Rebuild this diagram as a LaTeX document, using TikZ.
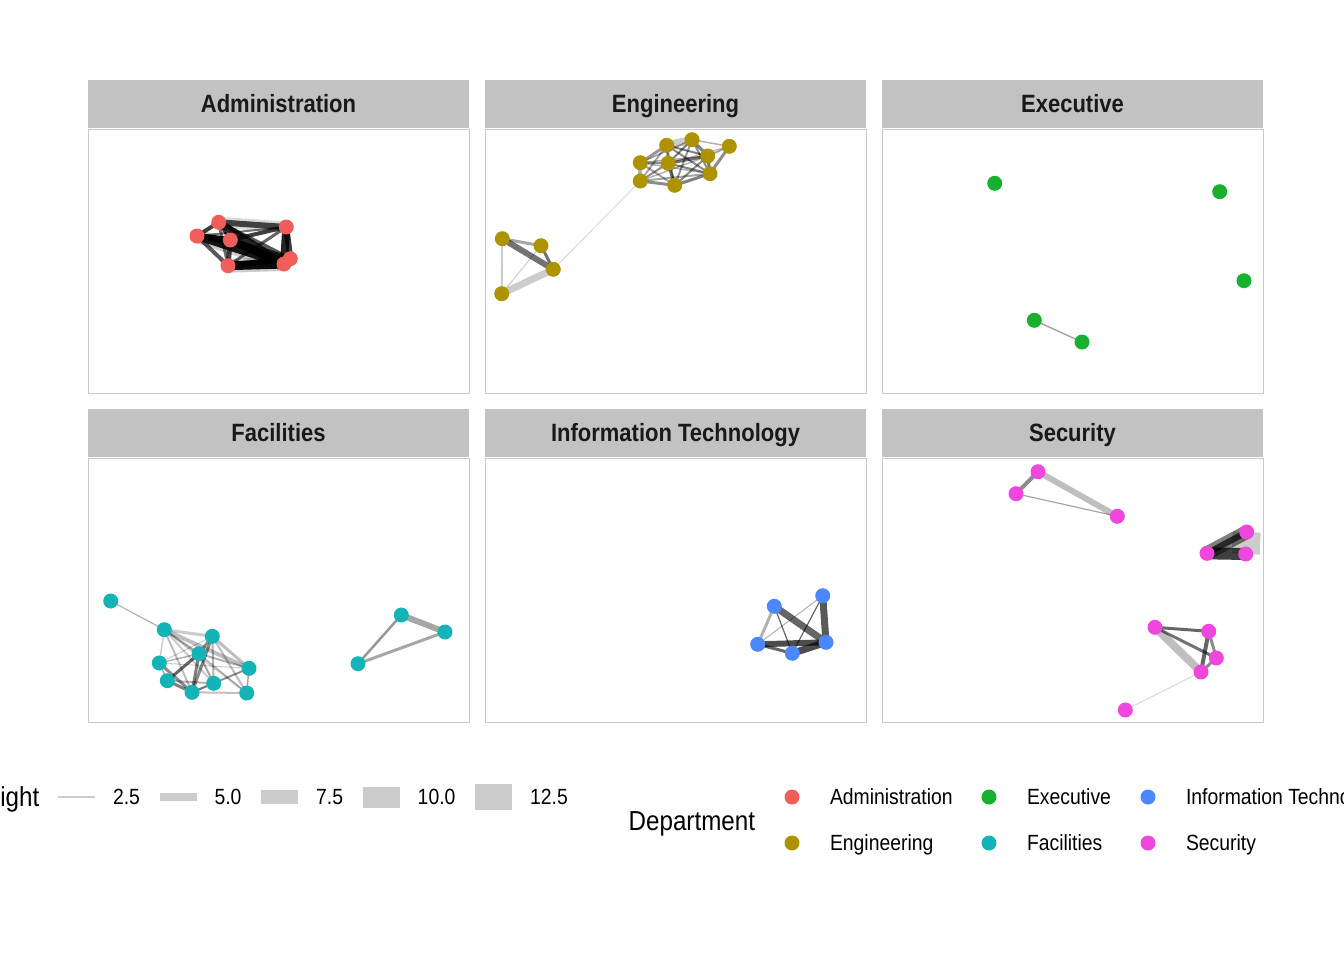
\documentclass[tikz,border=0pt]{standalone}
\usepackage{fontspec}
\setmainfont{Liberation Sans}[FakeStretch=0.88]
\usetikzlibrary{positioning,backgrounds}

\definecolor{stripgray}{HTML}{C2C2C2}
\definecolor{framegray}{HTML}{C8C8C8}
\definecolor{keygray}{HTML}{CCCCCC}
\definecolor{admcol}{HTML}{F15E5A}
\definecolor{engcol}{HTML}{AD9300}
\definecolor{execol}{HTML}{17B12F}
\definecolor{faccol}{HTML}{13B3B8}
\definecolor{itcol}{HTML}{4C87FF}
\definecolor{seccol}{HTML}{EF47DD}

\tikzset{
  strip/.style={fill=stripgray, minimum width=285.75pt, minimum height=36pt,
    font=\bfseries\fontsize{18.75}{20}\selectfont, text=black!90,
    text height=13.4pt, text depth=0pt},
  panel/.style={draw=framegray, line width=0.75pt, minimum width=285.75pt, minimum height=198pt},
  dot/.style={circle, fill=#1, minimum size=11.25pt},
  edge/.style 2 args={draw=black, line width=#1*0.75pt, draw opacity=#2},
  wkey/.style={fill=keygray, minimum width=27.75pt, minimum height=#1},
  lgtitle/.style={font=\fontsize{20.6}{22}\selectfont, text height=14.75pt, text depth=0pt},
  lglabel/.style={font=\fontsize{16.5}{18}\selectfont, text height=11.8pt, text depth=0pt}
}

\begin{document}
\begin{tikzpicture}[x=0.75pt, y=-0.75pt,
    every node/.style={inner sep=0pt, outer sep=0pt}]
  \useasboundingbox (0,0) rectangle (1344,960);
  \clip (0,0) rectangle (1344,960);

  % facet strips and panels
  \node[strip] (st-adm) at (278.5,104) {Administration};
  \node[strip, right=12pt of st-adm] (st-eng) {Engineering};
  \node[strip, right=12pt of st-eng] (st-exe) {Executive};
  \node[panel, below=0.75pt of st-adm] (pn-adm) {};
  \node[panel, below=0.75pt of st-eng] (pn-eng) {};
  \node[panel, below=0.75pt of st-exe] (pn-exe) {};
  \node[strip, below=12pt of pn-adm] (st-fac) {Facilities};
  \node[strip, below=12pt of pn-eng] (st-it) {Information Technology};
  \node[strip, below=12pt of pn-exe] (st-sec) {Security};
  \node[panel, below=0.75pt of st-fac] (pn-fac) {};
  \node[panel, below=0.75pt of st-it] (pn-it) {};
  \node[panel, below=0.75pt of st-sec] (pn-sec) {};

  % employees
  \foreach \n/\x/\y in {1/218.7/222.3, 2/197/236, 3/230.3/240, 4/286.3/227,
      5/228/265.7, 6/284/264, 7/290.3/258.7}
    \node[dot=admcol] (ad\n) at (\x,\y) {};
  \foreach \n/\x/\y in {1/666.7/145.3, 2/692/139.7, 3/729.3/146.3, 4/707.7/156,
      5/640.3/162.7, 6/668/163.3, 7/710/173.7, 8/640.3/181, 9/674.7/185.3,
      10/502.3/238.7, 11/541/245.7, 12/553.3/269.3, 13/501.7/293.7}
    \node[dot=engcol] (en\n) at (\x,\y) {};
  \foreach \n/\x/\y in {1/994.7/183.3, 2/1219.7/191.7, 3/1244/280.7,
      4/1034.3/320.3, 5/1082/342}
    \node[dot=execol] (ex\n) at (\x,\y) {};
  \foreach \n/\x/\y in {1/110.7/601, 2/164.3/629.7, 3/212.3/636.3, 4/199/653.7,
      5/159.3/663, 6/249/668.3, 7/167.3/680.7, 8/213.7/683.3, 9/192/692.3,
      10/246.7/693, 11/401.3/615, 12/445/632, 13/358/663.7}
    \node[dot=faccol] (fa\n) at (\x,\y) {};
  \foreach \n/\x/\y in {1/774.3/606.3, 2/822.7/595.7, 3/757.7/644.3,
      4/792.3/653.3, 5/826/642.3}
    \node[dot=itcol] (it\n) at (\x,\y) {};
  \foreach \n/\x/\y in {1/1038/471.7, 2/1016/493.7, 3/1117.3/516.3,
      4/1246.7/532, 5/1207/553.3, 6/1245.7/554, 7/1155/627.3, 8/1208.7/631.3,
      9/1216.3/658, 10/1201/672, 11/1125.3/710}
    \node[dot=seccol] (se\n) at (\x,\y) {};

  % weighted links
  \begin{scope}[on background layer]
    \foreach \a/\b/\w/\o in {1/2/4/0.75, 1/3/3/0.8, 1/4/6/0.7, 1/5/3/0.55, 1/6/7/0.85,
        1/7/4/0.65, 2/3/6/0.95, 2/5/4/0.65, 2/6/8/0.9, 2/4/2/0.55, 2/7/3/0.65,
        3/4/4/0.75, 3/5/5/0.75, 3/6/8/0.95, 3/7/5/0.75, 4/5/3/0.6, 4/6/8/0.85,
        4/7/6/0.75, 5/6/9/0.95, 5/7/6/0.85, 6/7/4/0.85, 2/6/14/0.2, 1/4/11/0.15,
        5/6/14/0.2}
      \draw[edge={\w}{\o}] (ad\a.center) -- (ad\b.center);
    \foreach \a/\b/\w/\o in {1/2/8/0.2, 1/4/2/0.5, 1/5/3/0.4, 1/6/2/0.5, 1/7/2/0.45,
        1/8/2/0.35, 1/9/2/0.4, 2/3/1.5/0.3, 2/4/3/0.5, 2/6/2/0.5, 2/7/2/0.45,
        2/9/2/0.4, 2/5/1.5/0.35, 3/4/2/0.35, 3/7/3/0.45, 3/6/1/0.3, 4/6/3/0.55,
        4/7/3/0.55, 4/9/2/0.45, 4/5/1.5/0.35, 4/8/1.5/0.3, 5/6/2/0.45, 5/8/4/0.3,
        5/9/2/0.35, 5/7/1.5/0.3, 6/8/2/0.45, 6/9/3/0.55, 6/7/2/0.5, 7/9/3/0.5,
        7/8/2/0.35, 8/9/3/0.45, 12/8/1/0.15, 10/11/3/0.35, 10/12/6/0.55,
        11/12/3/0.55, 10/13/2/0.2, 13/12/7/0.2, 13/11/1/0.2}
      \draw[edge={\w}{\o}] (en\a.center) -- (en\b.center);
    \draw[edge={1.5}{0.35}] (ex4.center) -- (ex5.center);
    \foreach \a/\b/\w/\o in {1/2/1.2/0.3, 2/3/3/0.2, 2/4/2/0.35, 2/6/4/0.25,
        2/9/2/0.25, 2/8/2/0.2, 2/10/2/0.2, 2/5/1.5/0.2, 3/4/3/0.45, 3/9/3/0.45,
        3/8/2/0.3, 3/10/2/0.25, 3/5/1/0.2, 4/5/1.5/0.3, 4/7/3/0.6, 4/9/3/0.5,
        4/8/2/0.35, 4/6/2/0.3, 4/10/1.5/0.25, 5/7/1.5/0.3, 5/9/3/0.45, 5/6/1/0.2,
        6/9/2/0.35, 6/10/1.5/0.35, 6/8/1/0.2, 7/9/3/0.5, 7/8/2/0.3, 8/9/2/0.3,
        9/10/2/0.25, 3/6/3/0.25, 11/12/6/0.35, 12/13/3/0.35, 11/13/2.5/0.4}
      \draw[edge={\w}{\o}] (fa\a.center) -- (fa\b.center);
    \foreach \a/\b/\w/\o in {1/5/7/0.6, 2/5/7/0.65, 3/5/6/0.7, 4/5/7/0.7,
        3/4/3/0.6, 1/3/3/0.3, 1/4/1.2/0.6, 2/3/1/0.3, 2/4/1.2/0.6}
      \draw[edge={\w}{\o}] (it\a.center) -- (it\b.center);
    \foreach \a/\b/\w/\o in {1/2/4/0.45, 1/3/6/0.25, 2/3/1.2/0.35, 4/6/28/0.2,
        4/5/14/0.5, 4/5/6/0.7, 5/6/12/0.75, 7/8/3/0.6, 7/9/3/0.55, 7/10/8/0.25,
        8/9/3/0.45, 8/10/4/0.6, 9/10/3/0.45, 10/11/1/0.15}
      \draw[edge={\w}{\o}] (se\a.center) -- (se\b.center);
  \end{scope}

  % legend: weight
  \node[wkey=1.5pt] (wk-1) at (76.5,797) {};
  \node[lgtitle, left=14pt of wk-1] {Weight};
  \node[lglabel, right=13.5pt of wk-1] (wl-1) {2.5};
  \node[wkey=6.5pt, right=14.75pt of wl-1] (wk-2) {};
  \node[lglabel, right=13.5pt of wk-2] (wl-2) {5.0};
  \node[wkey=11pt, right=14.75pt of wl-2] (wk-3) {};
  \node[lglabel, right=13.5pt of wk-3] (wl-3) {7.5};
  \node[wkey=15.75pt, right=14.75pt of wl-3] (wk-4) {};
  \node[lglabel, right=13.5pt of wk-4] (wl-4) {10.0};
  \node[wkey=19.5pt, right=14.75pt of wl-4] (wk-5) {};
  \node[lglabel, right=13.5pt of wk-5] (wl-5) {12.5};

  % legend: department
  \node[lgtitle, anchor=east] (lg-title) at (755,821) {Department};
  \node[dot=admcol] (lg-adm) at (792,797) {};
  \node[dot=engcol] (lg-eng) at (792,843) {};
  \node[dot=execol] (lg-exe) at (989,797) {};
  \node[dot=faccol] (lg-fac) at (989,843) {};
  \node[dot=itcol] (lg-it) at (1148,797) {};
  \node[dot=seccol] (lg-sec) at (1148,843) {};
  \node[lglabel, right=22.9pt of lg-adm] {Administration};
  \node[lglabel, right=22.9pt of lg-eng] {Engineering};
  \node[lglabel, right=22.9pt of lg-exe] {Executive};
  \node[lglabel, right=22.9pt of lg-fac] {Facilities};
  \node[lglabel, right=22.9pt of lg-it] {Information Technology};
  \node[lglabel, right=22.9pt of lg-sec] {Security};
\end{tikzpicture}
\end{document}
